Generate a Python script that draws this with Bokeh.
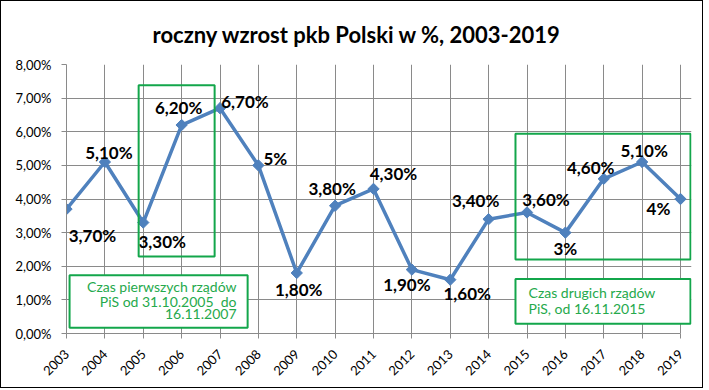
import numpy as np
from bokeh.plotting import figure
from bokeh.models import Range1d, FixedTicker, Label, BoxAnnotation, ColumnDataSource
from bokeh.core.properties import value
from bokeh.embed import file_html
from bokeh.resources import INLINE

# ---- data ----
years = list(range(2003, 2020))
growth = [3.7, 5.1, 3.3, 6.2, 6.7, 5.0, 1.8, 3.8, 4.3, 1.9, 1.6, 3.4, 3.6, 3.0, 4.6, 5.1, 4.0]
point_labels = ["3,70%", "5,10%", "3,30%", "6,20%", "6,70%", "5%", "1,80%", "3,80%", "4,30%",
                "1,90%", "1,60%", "3,40%", "3,60%", "3%", "4,60%", "5,10%", "4%"]
y_ticks = [0, 1, 2, 3, 4, 5, 6, 7, 8]
y_tick_labels = ["0,00%", "1,00%", "2,00%", "3,00%", "4,00%", "5,00%", "6,00%", "7,00%", "8,00%"]
title_text = "roczny wzrost pkb Polski w %, 2003-2019"
note1 = ["Czas pierwszych rządów", "PiS od 31.10.2005\u00a0 do", "16.11.2007"]
note2 = ["Czas drugich rządów", "PiS, od 16.11.2015"]

# label placement (pixel offsets from each point)
lab_dx = [26, 4, 19, -3, 25, 17, 2, -3, 20, -5, 17, -13, 19, 0, -13, 2, -22]
lab_dy = [26, -10, 19, -18, -7, -7, 17, -17, -15, 15, 14, -19, -13, 16, -11, -12, 9]

FONT = "Lato"
GREEN = "#13A64B"
GREEN_TXT = "#25A94C"
BLUE = "#4F81BD"
GRID = "#8A8A8A"

# frame extends a little right of 2019 so the green boxes can overhang; 38.375 px per year
p = figure(width=703, height=388, output_backend="svg", toolbar_location=None,
           x_range=Range1d(2003, 2019 + 11 / 38.375), y_range=Range1d(0, 8),
           min_border_left=65, min_border_right=13, min_border_top=60, min_border_bottom=56)
p.outline_line_color = None
p.background_fill_color = "white"
p.border_fill_color = "white"
p.styles = {"border": "1px solid #000000"}

# title
p.title.text = title_text
p.title.align = "left"
p.title.offset = 86
p.title.text_font = FONT
p.title.text_font_style = "bold"
p.title.text_font_size = "22px"
p.title.text_color = "#000000"
p.title.standoff = 34

# axes
p.xaxis.ticker = FixedTicker(ticks=years)
p.xaxis.bounds = (years[0], years[-1])
p.xaxis.major_label_overrides = {y: str(y) for y in years}
p.xaxis.major_label_orientation = np.pi / 4
p.yaxis.ticker = FixedTicker(ticks=y_ticks)
p.yaxis.major_label_overrides = {t: l for t, l in zip(y_ticks, y_tick_labels)}
for ax in (p.xaxis, p.yaxis):
    ax.axis_line_color = GRID
    ax.major_tick_line_color = GRID
    ax.major_tick_out = 5
    ax.major_tick_in = 0
    ax.minor_tick_line_color = None
    ax.major_label_text_font = FONT
    ax.major_label_text_font_size = "13px"
    ax.major_label_text_color = "#000000"
p.xaxis.major_label_standoff = 13
p.yaxis.major_label_standoff = 10

p.xgrid.ticker = FixedTicker(ticks=years)
p.ygrid.ticker = FixedTicker(ticks=y_ticks)
p.ygrid.bounds = (years[0], years[-1])
p.xgrid.bounds = (y_ticks[0], y_ticks[-1])
p.grid.grid_line_color = GRID
p.grid.grid_line_width = 1

# annotation boxes
box_style = dict(line_color=GREEN, line_alpha=1.0, line_width=2)
p.add_layout(BoxAnnotation(left=2004.88, right=2006.86, bottom=2.29, top=7.38,
                           fill_alpha=0, **box_style))
p.add_layout(BoxAnnotation(left=2014.70, right=2019.26, bottom=2.20, top=5.94,
                           fill_alpha=0, **box_style))
p.add_layout(BoxAnnotation(left=2003.08, right=2007.72, bottom=0.17, top=1.73,
                           fill_color="white", fill_alpha=1, **box_style))
p.add_layout(BoxAnnotation(left=2014.70, right=2019.26, bottom=0.29, top=1.62,
                           fill_color="white", fill_alpha=1, **box_style))

for txt, yy in zip(note1, [1.405, 0.948, 0.589]):
    p.add_layout(Label(x=2007.43, y=yy, text=txt, text_align="right", text_baseline="middle",
                       text_font=FONT, text_font_size="14px", text_color=GREEN_TXT))
for txt, yy in zip(note2, [1.207, 0.736]):
    p.add_layout(Label(x=2015.04, y=yy, text=txt, text_align="left", text_baseline="middle",
                       text_font=FONT, text_font_size="14px", text_color=GREEN_TXT))

# series
src = ColumnDataSource(dict(x=years, y=growth, lab=point_labels, dx=lab_dx, dy=lab_dy))
p.line("x", "y", source=src, line_color=BLUE, line_width=3.5)
p.scatter("x", "y", source=src, marker="square", angle=np.pi / 4, size=8,
          fill_color=BLUE, line_color=BLUE)
p.text("x", "y", text="lab", source=src, x_offset="dx", y_offset="dy",
       text_align="center", text_baseline="middle", text_font=value(FONT),
       text_font_style="bold", text_font_size="17px", text_color="#000000")

open("out.html", "w").write(file_html(p, INLINE))
